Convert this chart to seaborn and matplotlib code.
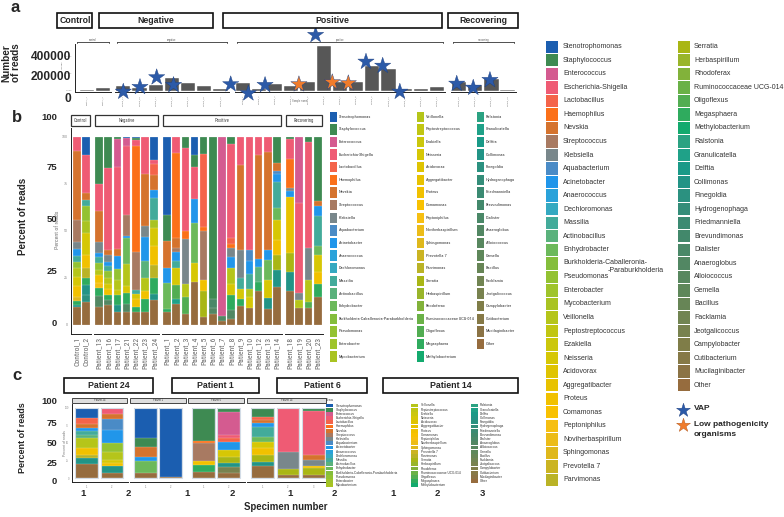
import numpy as np
import pandas as pd
import matplotlib
matplotlib.use("Agg")
import matplotlib.pyplot as plt
import seaborn as sns
from matplotlib import font_manager as fm
from matplotlib.font_manager import FontProperties
from matplotlib.textpath import TextPath
from matplotlib.patches import Rectangle

# ---------------- data ----------------
genera = ["Stenotrophomonas", "Staphylococcus", "Enterococcus", "Escherichia-Shigella", "Lactobacillus",
          "Haemophilus", "Nevskia", "Streptococcus", "Klebsiella", "Aquabacterium", "Acinetobacter",
          "Anaerococcus", "Dechloromonas", "Massilia", "Actinobacillus", "Enhydrobacter",
          "Burkholderia-Caballeronia-Paraburkholderia", "Pseudomonas", "Enterobacter", "Mycobacterium",
          "Veillonella", "Peptostreptococcus", "Ezakiella", "Neisseria", "Acidovorax", "Aggregatibacter",
          "Proteus", "Comamonas", "Peptoniphilus", "Noviherbaspirillum", "Sphingomonas", "Prevotella 7",
          "Parvimonas", "Serratia", "Herbaspirillum", "Rhodoferax", "Ruminococcaceae UCG-014", "Oligoflexus",
          "Megasphaera", "Methylobacterium", "Ralstonia", "Granulicatella", "Delftia", "Collimonas",
          "Finegoldia", "Hydrogenophaga", "Friedmanniella", "Brevundimonas", "Dialister", "Anaeroglobus",
          "Alloiococcus", "Gemella", "Bacillus", "Facklamia", "Jeotgalicoccus", "Campylobacter",
          "Cutibacterium", "Mucilaginibacter", "Other"]
genus_colors = ["#1b5eb0", "#3e8a52", "#d45b90", "#ef5b74", "#f4644a", "#fb7019", "#d5732e", "#a87a62",
                "#79878b", "#4a8bc6", "#2196ea", "#2aa2da", "#35a9c1", "#43ab9a", "#5ab27c", "#6cb95b",
                "#84be3c", "#93c232", "#9fc42b", "#a9c322", "#b5c51a", "#c1c612", "#cbc70c", "#d6c705",
                "#dfc402", "#e8c200", "#f1c100", "#f8c102", "#f6bf12", "#ecbc18", "#dfb81c", "#cbb422",
                "#bab326", "#a9b615", "#99b52a", "#82b23a", "#6ab147", "#52ad52", "#2fab5e", "#13aa6e",
                "#2ba282", "#1fa188", "#1a9a88", "#229486", "#2b9180", "#348d79", "#3b8a72", "#42886b",
                "#4a8868", "#528763", "#58875f", "#5e875a", "#678556", "#718452", "#78824f", "#7f7d48",
                "#867947", "#8b7345", "#966c3e"]

# panel a: number of reads
status_groups = ["Control", "Negative", "Positive", "Recovering"]
samples_control = ["Control_1", "Control_2"]
samples_negative = ["Patient_13", "Patient_16", "Patient_17", "Patient_21", "Patient_22", "Patient_23", "Patient_24"]
samples_positive = ["Patient_1", "Patient_2", "Patient_3", "Patient_4", "Patient_5", "Patient_6", "Patient_7",
                    "Patient_8", "Patient_9", "Patient_10", "Patient_12", "Patient_13", "Patient_14"]
samples_recovering = ["Patient_18", "Patient_19", "Patient_20", "Patient_23"]
reads_control = [8000, 35000]
reads_negative = [59000, 35000, 67000, 153000, 90000, 59000, 20000]
reads_positive = [86000, 16000, 75000, 51000, 98000, 529000, 106000, 106000, 286000, 251000, 24000, 16000, 43000]
reads_recovering = [102000, 67000, 133000, 12000]

# stars over panel a (group, position in group, height, kind)
star_group = ["Negative"] * 5 + ["Positive"] * 9 + ["Recovering"] * 3
star_pos = [0.0, 1.03, 2.06, 3.1, 6.63, 0.35, 1.38, 3.47, 4.5, 5.53, 6.52, 7.61, 8.64, 9.7, -0.14, 0.88, 1.91]
star_value = [-11800, 43500, 157600, 67000, 75300, -30600, 67000, 75300, 655000, 98800, 87000, 341000,
              293000, -11800, 82000, 35000, 126000]
star_kind = ["VAP", "VAP", "VAP", "VAP", "VAP", "VAP", "VAP", "Low", "VAP", "Low", "Low", "VAP", "VAP", "VAP",
             "VAP", "VAP", "VAP"]

# panel b: composition per sample (genus, percent)
b_control_1 = [("Escherichia-Shigella", 8), ("Nevskia", 37), ("Streptococcus", 12), ("Klebsiella", 4),
               ("Acinetobacter", 3.5), ("Massilia", 3.5), ("Pseudomonas", 3), ("Veillonella", 5), ("Neisseria", 5),
               ("Proteus", 6), ("Sphingomonas", 2), ("Megasphaera", 2), ("Collimonas", 1.5), ("Other", 9.5)]
b_control_2 = [("Stenotrophomonas", 10), ("Escherichia-Shigella", 20), ("Nevskia", 3.5), ("Massilia", 3.5),
               ("Pseudomonas", 8), ("Mycobacterium", 6), ("Neisseria", 12), ("Proteus", 7), ("Parvimonas", 5),
               ("Megasphaera", 4), ("Collimonas", 5), ("Finegoldia", 4), ("Other", 12)]
b_neg_13 = [("Staphylococcus", 25.7), ("Escherichia-Shigella", 15), ("Nevskia", 17), ("Klebsiella", 6),
            ("Acinetobacter", 2), ("Massilia", 3), ("Pseudomonas", 4), ("Veillonella", 3), ("Proteus", 4),
            ("Peptoniphilus", 3), ("Megasphaera", 4), ("Anaeroglobus", 6), ("Other", 10)]
b_neg_16 = [("Staphylococcus", 17), ("Escherichia-Shigella", 45), ("Nevskia", 2.5), ("Klebsiella", 4),
            ("Acinetobacter", 2), ("Massilia", 3), ("Pseudomonas", 4), ("Veillonella", 3), ("Neisseria", 3),
            ("Proteus", 3), ("Megasphaera", 3), ("Anaeroglobus", 2.5), ("Other", 11)]
b_neg_17 = [("Staphylococcus", 1.5), ("Enterococcus", 15), ("Escherichia-Shigella", 44), ("Nevskia", 4),
            ("Acinetobacter", 7), ("Pseudomonas", 6), ("Veillonella", 5), ("Ezakiella", 3), ("Megasphaera", 5),
            ("Collimonas", 4), ("Other", 7)]
b_neg_21 = [("Stenotrophomonas", 1), ("Enterococcus", 4), ("Escherichia-Shigella", 39), ("Streptococcus", 11.5),
            ("Acinetobacter", 1), ("Enhydrobacter", 15), ("Veillonella", 12), ("Neisseria", 4),
            ("Megasphaera", 6), ("Anaeroglobus", 5), ("Other", 7)]
b_neg_22 = [("Stenotrophomonas", 1), ("Staphylococcus", 1), ("Escherichia-Shigella", 3), ("Haemophilus", 58),
            ("Streptococcus", 21), ("Proteus", 4), ("Neisseria", 3), ("Massilia", 2), ("Megasphaera", 3), ("Other", 7)]
b_neg_23 = [("Escherichia-Shigella", 20), ("Nevskia", 27.4), ("Klebsiella", 6), ("Acinetobacter", 12.4),
            ("Actinobacillus", 9), ("Veillonella", 7), ("Proteus", 4), ("Megasphaera", 7), ("Other", 7)]
b_neg_24 = [("Stenotrophomonas", 12.4), ("Escherichia-Shigella", 2), ("Lactobacillus", 6), ("Nevskia", 8),
            ("Acinetobacter", 4.4), ("Massilia", 11.5), ("Mycobacterium", 4), ("Neisseria", 10), ("Proteus", 10),
            ("Parvimonas", 7), ("Megasphaera", 8), ("Collimonas", 3.7), ("Other", 13)]
b_pos_1 = [("Stenotrophomonas", 41.6), ("Staphylococcus", 14), ("Nevskia", 14), ("Acinetobacter", 8),
           ("Enhydrobacter", 14), ("Megasphaera", 1.5), ("Other", 6.9)]
b_pos_2 = [("Escherichia-Shigella", 8.5), ("Haemophilus", 45.5), ("Nevskia", 5), ("Streptococcus", 2),
           ("Acinetobacter", 5), ("Massilia", 4), ("Neisseria", 9), ("Oligoflexus", 7), ("Granulicatella", 3),
           ("Other", 11)]
b_pos_3 = [("Staphylococcus", 6), ("Escherichia-Shigella", 44), ("Haemophilus", 4.4), ("Klebsiella", 24),
           ("Veillonella", 7), ("Oligoflexus", 9), ("Other", 5.6)]
b_pos_4 = [("Stenotrophomonas", 10), ("Staphylococcus", 6), ("Escherichia-Shigella", 17), ("Acinetobacter", 13),
           ("Enhydrobacter", 21), ("Neisseria", 10), ("Other", 23)]
b_pos_5 = [("Staphylococcus", 9), ("Lactobacillus", 39), ("Haemophilus", 2), ("Streptococcus", 26),
           ("Proteus", 6), ("Serratia", 14), ("Other", 4)]
b_pos_6 = [("Staphylococcus", 86), ("Dialister", 5), ("Anaeroglobus", 3), ("Other", 6)]
b_pos_7 = [("Enterococcus", 95), ("Anaeroglobus", 3), ("Other", 2)]
b_pos_8 = [("Staphylococcus", 4), ("Escherichia-Shigella", 50), ("Haemophilus", 2), ("Lactobacillus", 3),
           ("Klebsiella", 5), ("Acinetobacter", 6), ("Neisseria", 6), ("Veillonella", 8), ("Megasphaera", 8),
           ("Anaeroglobus", 5), ("Other", 3)]
b_pos_9 = [("Escherichia-Shigella", 15), ("Nevskia", 45), ("Klebsiella", 15), ("Massilia", 6), ("Neisseria", 5),
           ("Megasphaera", 4), ("Other", 10)]
b_pos_10 = [("Escherichia-Shigella", 60), ("Aquabacterium", 6), ("Acinetobacter", 7), ("Massilia", 8),
            ("Neisseria", 6), ("Veillonella", 4), ("Other", 9)]
b_pos_12 = [("Escherichia-Shigella", 10), ("Nevskia", 55), ("Acinetobacter", 4), ("Actinobacillus", 8),
            ("Megasphaera", 5), ("Other", 18)]
b_pos_13 = [("Escherichia-Shigella", 8), ("Nevskia", 50), ("Acinetobacter", 5), ("Enhydrobacter", 10),
            ("Neisseria", 9), ("Collimonas", 6), ("Other", 8)]
b_pos_14 = [("Staphylococcus", 14), ("Nevskia", 4), ("Aquabacterium", 2), ("Acinetobacter", 4), ("Massilia", 14),
            ("Enhydrobacter", 6), ("Neisseria", 11), ("Proteus", 8), ("Serratia", 8), ("Collimonas", 9), ("Other", 20)]
b_rec_18 = [("Staphylococcus", 1), ("Escherichia-Shigella", 11), ("Haemophilus", 15), ("Klebsiella", 2),
            ("Acinetobacter", 3), ("Aggregatibacter", 30), ("Serratia", 10), ("Collimonas", 10), ("Other", 18)]
b_rec_19 = [("Enterococcus", 35), ("Escherichia-Shigella", 48), ("Klebsiella", 4), ("Veillonella", 4), ("Other", 9)]
b_rec_20 = [("Staphylococcus", 3), ("Escherichia-Shigella", 56), ("Klebsiella", 17), ("Veillonella", 12),
            ("Oligoflexus", 3), ("Other", 9)]
b_rec_23 = [("Staphylococcus", 34), ("Nevskia", 3), ("Acinetobacter", 5), ("Massilia", 16), ("Enhydrobacter", 5),
            ("Neisseria", 9), ("Proteus", 6), ("Megasphaera", 7), ("Other", 15)]

# panel c: patients followed over specimens
c_p24_1 = [("Stenotrophomonas", 14.2), ("Lactobacillus", 8), ("Nevskia", 6.1), ("Acinetobacter", 4.7),
           ("Massilia", 5.7), ("Actinobacillus", 4.7), ("Veillonella", 14.1), ("Proteus", 9.5), ("Parvimonas", 5),
           ("Collimonas", 8), ("Other", 20)]
c_p24_2 = [("Escherichia-Shigella", 8), ("Nevskia", 8), ("Aquabacterium", 15.6), ("Acinetobacter", 18.9),
           ("Pseudomonas", 12), ("Veillonella", 11.5), ("Neisseria", 5), ("Proteus", 4.5), ("Collimonas", 9.5),
           ("Other", 7)]
c_p1_1 = [("Stenotrophomonas", 42.5), ("Staphylococcus", 12.7), ("Nevskia", 14.1), ("Acinetobacter", 7.1),
          ("Enhydrobacter", 16.6), ("Other", 7)]
c_p1_2 = [("Stenotrophomonas", 98.6), ("Other", 1.4)]
c_p6_1 = [("Staphylococcus", 46.7), ("Haemophilus", 3.8), ("Streptococcus", 25.9), ("Proteus", 5.7),
          ("Megasphaera", 9.4), ("Other", 8.5)]
c_p6_2 = [("Staphylococcus", 6), ("Enterococcus", 32.7), ("Escherichia-Shigella", 4.7), ("Lactobacillus", 4.7),
          ("Acinetobacter", 11.9), ("Neisseria", 9.3), ("Serratia", 9.7), ("Collimonas", 5), ("Jeotgalicoccus", 9),
          ("Other", 7)]
c_p14_1 = [("Staphylococcus", 13), ("Lactobacillus", 4.7), ("Nevskia", 3.3), ("Acinetobacter", 6), ("Massilia", 14),
           ("Enhydrobacter", 7), ("Neisseria", 9.5), ("Proteus", 9.5), ("Serratia", 9.4), ("Collimonas", 7),
           ("Other", 16.5)]
c_p14_2 = [("Escherichia-Shigella", 63.2), ("Klebsiella", 23.6), ("Serratia", 8.5), ("Other", 4.7)]
c_p14_3 = [("Staphylococcus", 4.7), ("Escherichia-Shigella", 62.3), ("Nevskia", 7), ("Klebsiella", 9.5),
           ("Proteus", 2.4), ("Serratia", 9.4), ("Other", 4.7)]
c_patients = ["Patient 24", "Patient 1", "Patient 6", "Patient 14"]
c_specimens = [["1", "2"], ["1", "2"], ["1", "2"], ["1", "2", "3"]]

# ---------------- setup ----------------
W, H = 784, 517
sns.set_theme(style="white")
plt.rcParams['font.family'] = ['Liberation Sans', 'DejaVu Sans']
col_of = dict(zip(genera, genus_colors))

REG = FontProperties(family=['Liberation Sans', 'DejaVu Sans'])


def pick_narrow():
    files = [f.fname for f in fm.fontManager.ttflist]
    prefs = ['liberationsansnarrow-regular', 'robotocondensed-regular', 'opensans_condensed-regular',
             'opensanscondensed-regular', 'dejavusanscondensed.ttf']
    for p in prefs:
        for fn in files:
            if p in fn.lower().replace(' ', ''):
                return FontProperties(fname=fn)
    for fn in files:
        low = fn.lower()
        if ('condensed' in low or 'narrow' in low) and 'sans' in low and not any(
                k in low for k in ('bold', 'italic', 'oblique', 'mono', 'light', 'thin')):
            return FontProperties(fname=fn)
    return REG


NARROW = pick_narrow()


def fit_size(s, target_px, fp):
    w = TextPath((0, 0), s, size=10, prop=fp).get_extents().width
    return 10 * target_px / (w * 100 / 72)


fig = plt.figure(figsize=(W / 100, H / 100), dpi=100)
fig.patch.set_facecolor("white")


def add_ax(x0, y0, x1, y1):
    return fig.add_axes([x0 / W, 1 - y1 / H, (x1 - x0) / W, (y1 - y0) / H])


def lims_from_px(left, right, c0, step):
    return ((left - c0) / step, (right - c0) / step)


def style_facet(ax, first, tick_fs):
    sns.despine(ax=ax, top=True, right=True, left=not first)
    ax.set_xlabel("")
    ax.set_ylabel("")
    ax.tick_params(axis='x', length=1, width=0.3, pad=1, colors='#777777', labelsize=tick_fs)
    ax.tick_params(axis='y', length=1.2 if first else 0, width=0.3, pad=1, colors='#888888', labelsize=tick_fs,
                   labelleft=first)
    for s in ax.spines.values():
        s.set_linewidth(0.7)
        s.set_color('#222222')


def draw_stacked(ax, samples, comps, width, outline=None):
    rows = []
    for s, comp in zip(samples, comps):
        d = dict(comp)
        tot = sum(d.values())
        cum = 0.0
        for g in reversed(genera):
            v = d.get(g, 0) / tot * 100
            cum += v
            rows.append((s, g, v, cum))
    df = pd.DataFrame(rows, columns=['sample', 'genus', 'pct', 'top'])
    for g in genera:
        sub = df[(df.genus == g) & (df.pct > 0)]
        if len(sub) == 0:
            continue
        sns.barplot(data=sub, x='sample', y='top', order=samples, color=col_of[g], saturation=1,
                    width=width, ax=ax, edgecolor='white', linewidth=0.15, errorbar=None)
    if outline is not None:
        tot_df = pd.DataFrame({'sample': samples, 'top': [100.0] * len(samples)})
        sns.barplot(data=tot_df, x='sample', y='top', order=samples, fill=False, width=width,
                    edgecolor=outline, linewidth=0.8, ax=ax, errorbar=None)


# overlay for annotations in pixel coordinates
ov = fig.add_axes([0, 0, 1, 1], zorder=20)
ov.set_xlim(0, W)
ov.set_ylim(H, 0)
ov.axis('off')
ov.patch.set_alpha(0)


def box(x0, y0, x1, y1, lw=1.2, ec='#111111', fc='white'):
    r = Rectangle((x0, y0), x1 - x0, y1 - y0, fill=True, fc=fc, ec=ec, lw=lw)
    ov.add_patch(r)
    return r


def txt(x, y, s, **kw):
    kw.setdefault('va', 'center')
    return ov.text(x, y, s, **kw)


BIG = 6.8     # bold tick numbers in panels b and c
HEAD = 6.3    # bold header boxes

# ---------------- panel a ----------------
a_layout = [  # left, right, first centre, step
    (75, 110.8, 86.7, 16.0),
    (115.2, 228.8, 123.3, 16.2),
    (234.6, 445.1, 242.7, 16.2),
    (451.0, 516.4, 459.0, 16.2),
]
a_samples = [samples_control, samples_negative, samples_positive, samples_recovering]
a_reads = [reads_control, reads_negative, reads_positive, reads_recovering]
star_color = {"VAP": "#2c5aa8", "Low": "#f07c2c"}
for i, (grp, smp, rd, lay) in enumerate(zip(status_groups, a_samples, a_reads, a_layout)):
    ax = add_ax(lay[0], 44.0, lay[1], 92.0)
    ax.patch.set_alpha(0)
    dfa = pd.DataFrame({'sample': smp, 'reads': rd})
    sns.barplot(data=dfa, x='sample', y='reads', order=smp, color='#575757', saturation=1, width=0.88,
                edgecolor='white', linewidth=0.3, ax=ax, errorbar=None)
    sel = [k for k, gname in enumerate(star_group) if gname == grp]
    if sel:
        sdf = pd.DataFrame({'x': [star_pos[k] for k in sel], 'y': [star_value[k] for k in sel],
                            'kind': [star_kind[k] for k in sel]})
        sns.scatterplot(data=sdf, x='x', y='y', hue='kind', palette=star_color, marker='*', s=150,
                        edgecolor='#1d3f80', linewidth=0.3, legend=False, ax=ax, clip_on=False, zorder=10)
    ax.set_xlim(*lims_from_px(lay[0], lay[1], lay[2], lay[3]))
    ax.set_ylim(-15300, 549000)
    ax.set_yticks([0, 200000, 400000])
    ax.set_yticklabels(["0e+00", "2e+05", "4e+05"])
    ax.set_xticks(range(len(smp)))
    ax.set_xticklabels(smp, rotation=90)
    style_facet(ax, i == 0, 1.6)
    for c in ax.collections:
        c.set_clip_on(False)
    ov.plot([lay[0] + 2, lay[1] - 2], [41.7, 41.7], color='#333333', lw=0.6)
    ov.plot([lay[0] + 2, lay[0] + 2], [41.7, 43.3], color='#333333', lw=0.6)
    ov.plot([lay[1] - 2, lay[1] - 2], [41.7, 43.3], color='#333333', lw=0.6)
    txt((lay[0] + lay[1]) / 2, 40.3, grp.lower(), fontsize=1.8, ha='center', color='#555555')
txt(300, 101, "Sample name", fontsize=1.8, ha='center', color='#666666')
ov.text(63, 67.3, "No. Reads", fontsize=1.7, rotation=90, ha='center', va='center', color='#666666')

txt(15, 7, "a", fontsize=12, fontweight='bold', ha='center')
txt(11.5, 63, "Number\nof reads", fontsize=7.2, fontweight='bold', ha='center', rotation=90, linespacing=0.95)
for lab, y in [("400000", 56.5), ("200000", 77.5), ("0", 99)]:
    txt(71, y, lab, fontsize=8.6, fontweight='bold', ha='right')
ctrl_box = box(57, 13, 92, 28)
t = txt(60, 20.5, "Control", fontsize=HEAD, fontweight='bold', ha='left')
t.set_clip_path(ctrl_box)
for lab, x0, x1 in [("Negative", 99, 213), ("Positive", 223, 442), ("Recovering", 448, 518)]:
    box(x0, 13, x1, 28)
    txt((x0 + x1) / 2, 20.5, lab, fontsize=HEAD, fontweight='bold', ha='center')

# ---------------- panel b ----------------
b_layout = [
    (71.0, 90.8, 77.0, 9.2),
    (94.4, 158.8, 99.0, 9.2),
    (162.4, 281.6, 167.0, 9.17),
    (285.4, 322.6, 290.0, 9.3),
]
b_comps = [[b_control_1, b_control_2],
           [b_neg_13, b_neg_16, b_neg_17, b_neg_21, b_neg_22, b_neg_23, b_neg_24],
           [b_pos_1, b_pos_2, b_pos_3, b_pos_4, b_pos_5, b_pos_6, b_pos_7, b_pos_8, b_pos_9, b_pos_10,
            b_pos_12, b_pos_13, b_pos_14],
           [b_rec_18, b_rec_19, b_rec_20, b_rec_23]]
xlab_fs = fit_size("Patient_13", 31, NARROW)
for i, (grp, smp, comps, lay) in enumerate(zip(status_groups, a_samples, b_comps, b_layout)):
    ax = add_ax(lay[0], 128.0, lay[1], 334.0)
    ax.patch.set_alpha(0)
    draw_stacked(ax, smp, comps, 0.82)
    ax.set_xlim(*lims_from_px(lay[0], lay[1], lay[2], lay[3]))
    ax.set_ylim(-4.8, 104.6)
    ax.set_yticks([0, 25, 50, 75, 100])
    ax.set_xticks(range(len(smp)))
    ax.set_xticklabels(smp, rotation=90)
    style_facet(ax, i == 0, 2.6)
    for lbl in ax.get_xticklabels():
        lbl.set_fontproperties(NARROW)
        lbl.set_fontsize(xlab_fs)
        lbl.set_color('#666666')
    box(lay[0] + 0.5, 115, lay[1] - 0.5, 126, lw=0.9, ec='#333333')
    txt((lay[0] + lay[1]) / 2, 120.5, grp, fontproperties=NARROW, fontsize=3.3, ha='center', color='#444444')
ov.text(58, 230, "Percent of reads", fontproperties=NARROW, fontsize=4.2, rotation=90, ha='center',
        va='center', color='#777777')
txt(17, 117, "b", fontsize=12, fontweight='bold', ha='center')
txt(23, 216, "Percent of reads", fontsize=7.1, fontweight='bold', ha='center', rotation=90)
for lab, y in [("100", 117), ("75", 168), ("50", 220), ("25", 271), ("0", 323)]:
    txt(57, y, lab, fontsize=BIG, fontweight='bold', ha='right')

# small legend of panel b
leg_b_fs = fit_size("Stenotrophomonas", 33, NARROW)
b_cols = [(330, 339, 0, 20), (417, 426, 20, 40), (477, 486, 40, 59)]
for sx, tx, a0, a1 in b_cols:
    for r, g in enumerate(genera[a0:a1]):
        yc = 116.7 + r * 12.63
        ov.add_patch(Rectangle((sx, yc - 5.2), 7, 10.4, fc=col_of[g], ec='none'))
        txt(tx, yc, g, fontproperties=NARROW, fontsize=leg_b_fs, color='#333333', ha='left')

# ---------------- panel c ----------------
c_layout = [
    (72.0, 128.0, 86.5, 25.5),
    (130.0, 187.0, 145.5, 25.0),
    (188.0, 245.0, 203.5, 25.0),
    (247.0, 327.0, 262.5, 25.5),
]
c_comps = [[c_p24_1, c_p24_2], [c_p1_1, c_p1_2], [c_p6_1, c_p6_2], [c_p14_1, c_p14_2, c_p14_3]]
for i, (pat, spec, comps, lay) in enumerate(zip(c_patients, c_specimens, c_comps, c_layout)):
    ax = add_ax(lay[0], 404.0, lay[1], 482.0)
    ax.patch.set_alpha(0)
    draw_stacked(ax, spec, comps, 0.9, outline='#d3dce6')
    ax.set_xlim(*lims_from_px(lay[0], lay[1], lay[2], lay[3]))
    ax.set_ylim(-5.7, 105.7)
    ax.set_yticks([0, 25, 50, 75, 100])
    ax.set_xticks(range(len(spec)))
    style_facet(ax, i == 0, 1.8)
    box(lay[0] + 0.5, 397.5, lay[1] - 0.5, 403, lw=0.7, ec='#444444', fc='#dedede')
    txt((lay[0] + lay[1]) / 2, 400.2, pat, fontsize=1.8, ha='center', color='#333333')
ov.text(65, 443, "Percent of reads", fontsize=2.5, rotation=90, ha='center', va='center', color='#777777')
txt(17, 376, "c", fontsize=12, fontweight='bold', ha='center')
txt(23, 438, "Percent of reads", fontsize=6.5, fontweight='bold', ha='center', rotation=90)
for lab, y in [("100", 402), ("75", 423), ("50", 443), ("25", 463), ("0", 482)]:
    txt(57, y, lab, fontsize=BIG, fontweight='bold', ha='right')
for pat, x0, x1 in [("Patient 24", 64, 153), ("Patient 1", 172, 259), ("Patient 6", 277, 367),
                    ("Patient 14", 383, 518)]:
    box(x0, 378, x1, 393)
    txt((x0 + x1) / 2, 385.5, pat, fontsize=HEAD, fontweight='bold', ha='center')
for lab, x in zip(["1", "2", "1", "2", "1", "2", "1", "2", "3"], [83, 128, 187, 232, 290, 334, 393, 437, 482]):
    txt(x, 493, lab, fontsize=BIG, fontweight='bold', ha='center')
txt(286, 507, "Specimen number", fontsize=6.9, fontweight='bold', ha='center')

# small legend of panel c
txt(326, 400, "Genus", fontsize=2, color='#333333', ha='left')
leg_c_fs = fit_size("Stenotrophomonas", 26, REG)
c_cols = [(326, 336, 0, 20), (411, 421, 20, 40), (471, 480, 40, 59)]
for sx, tx, a0, a1 in c_cols:
    for r, g in enumerate(genera[a0:a1]):
        yc = 405.5 + r * 4.2
        ov.add_patch(Rectangle((sx, yc - 1.9), 7, 3.8, fc=col_of[g], ec='none'))
        txt(tx, yc, g, fontsize=leg_c_fs, color='#333333', ha='left')

# ---------------- right legend ----------------
leg_r_fs = fit_size("Stenotrophomonas", 59, REG)
for r, g in enumerate(genera):
    colidx = 0 if r < 33 else 1
    rr = r if r < 33 else r - 33
    sx, tx = (546, 563) if colidx == 0 else (678, 694)
    yc = 46.7 + rr * 13.54
    ov.add_patch(Rectangle((sx, yc - 6.2), 12, 12.4, fc=col_of[g], ec='none'))
    if g.startswith("Burkholderia"):
        txt(tx, yc - 1, "Burkholderia-Caballeronia-", fontsize=leg_r_fs, color='#333333', ha='left')
        txt(608, yc + 7, "-Paraburkholderia", fontsize=leg_r_fs, color='#333333', ha='left')
    else:
        txt(tx, yc, g, fontsize=leg_r_fs, color='#333333', ha='left')
ov.scatter([683], [410], marker='*', s=110, color=star_color["VAP"], edgecolor='#1d3f80', linewidth=0.3)
ov.scatter([683], [425], marker='*', s=110, color=star_color["Low"], edgecolor='#b0551a', linewidth=0.3)
txt(694, 409, "VAP", fontsize=6, fontweight='bold', ha='left')
txt(694, 425, "Low pathogenicity", fontsize=6, fontweight='bold', ha='left')
txt(694, 435, "organisms", fontsize=6, fontweight='bold', ha='left')

fig.savefig("out.png", dpi=100, facecolor='white')
